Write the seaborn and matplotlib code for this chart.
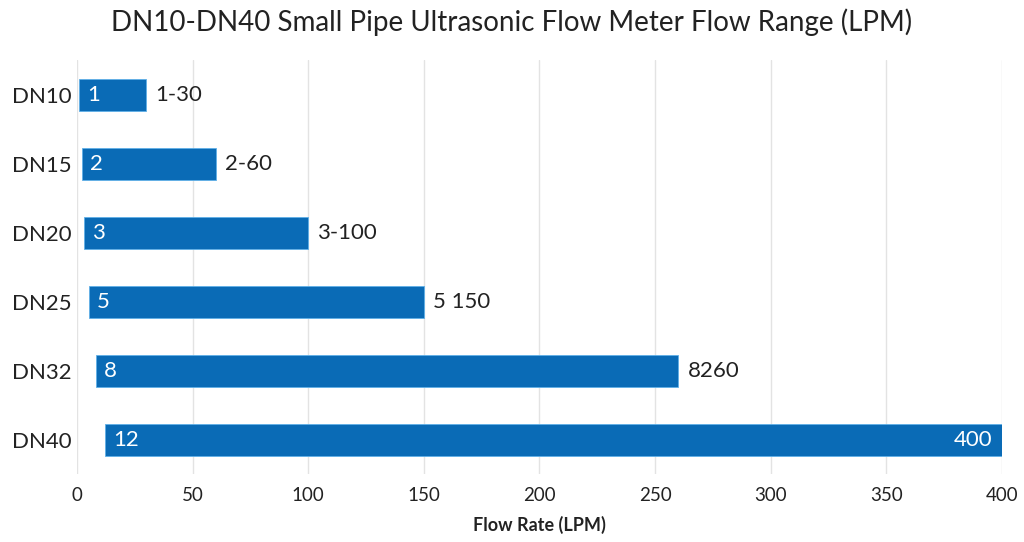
import matplotlib
matplotlib.use("Agg")
import matplotlib.pyplot as plt
import seaborn as sns
import pandas as pd

categories = ["DN10", "DN15", "DN20", "DN25", "DN32", "DN40"]
min_flow = [1, 2, 3, 5, 8, 12]
max_flow = [30, 60, 100, 150, 260, 400]
start_labels = ["1", "2", "3", "5", "8", "12"]
end_labels = ["1-30", "2-60", "3-100", "5 150", "8260", "400"]
x_ticks = [0, 50, 100, 150, 200, 250, 300, 350, 400]

df = pd.DataFrame({"cat": categories, "mn": min_flow, "mx": max_flow})

sns.set_theme(style="white")
plt.rcParams["font.family"] = ["Lato", "DejaVu Sans"]

fig = plt.figure(figsize=(10.24, 5.42), dpi=100)
ax = fig.add_axes([0.0752, 0.125, 0.9033, 0.764])

blue = "#0A6BB6"
sns.barplot(data=df, y="cat", x="mx", orient="h", color=blue, width=0.46,
            saturation=1, ax=ax, edgecolor="#5FB0E8", linewidth=0.6, zorder=3)

for patch, mn, mx in zip(ax.patches, min_flow, max_flow):
    patch.set_x(mn)
    patch.set_width(mx - mn)

ax.set_xlim(0, 400)
ax.set_ylim(5.5, -0.5)
ax.set_xticks(x_ticks)
ax.set_xticklabels([str(t) for t in x_ticks], fontsize=13.5, color="#222222")
ax.tick_params(axis="x", length=0, pad=9)
ax.tick_params(axis="y", length=0, pad=4, labelsize=16, labelcolor="#222222")
ax.xaxis.grid(True, color="#E3E3E3", linewidth=1, zorder=0)
ax.yaxis.grid(False)
for s in ax.spines.values():
    s.set_visible(False)
ax.set_ylabel("")
ax.set_xlabel("Flow Rate (LPM)", fontsize=13, fontweight="bold", color="#222222", labelpad=9)

for i, (mn, mx, sl, el) in enumerate(zip(min_flow, max_flow, start_labels, end_labels)):
    ax.text(mn + 3.5, i, sl, color="white", fontsize=16, va="center", ha="left", zorder=4)
    if mx >= 400:
        ax.text(mx - 4, i, el, color="white", fontsize=16, va="center", ha="right", zorder=4)
    else:
        ax.text(mx + 4, i, el, color="#222222", fontsize=16, va="center", ha="left", zorder=4)

fig.suptitle("DN10-DN40 Small Pipe Ultrasonic Flow Meter Flow Range (LPM)",
             fontsize=20, color="#222222", x=0.5, y=0.985, va="top")

fig.savefig("out.png", dpi=100, facecolor="white")
